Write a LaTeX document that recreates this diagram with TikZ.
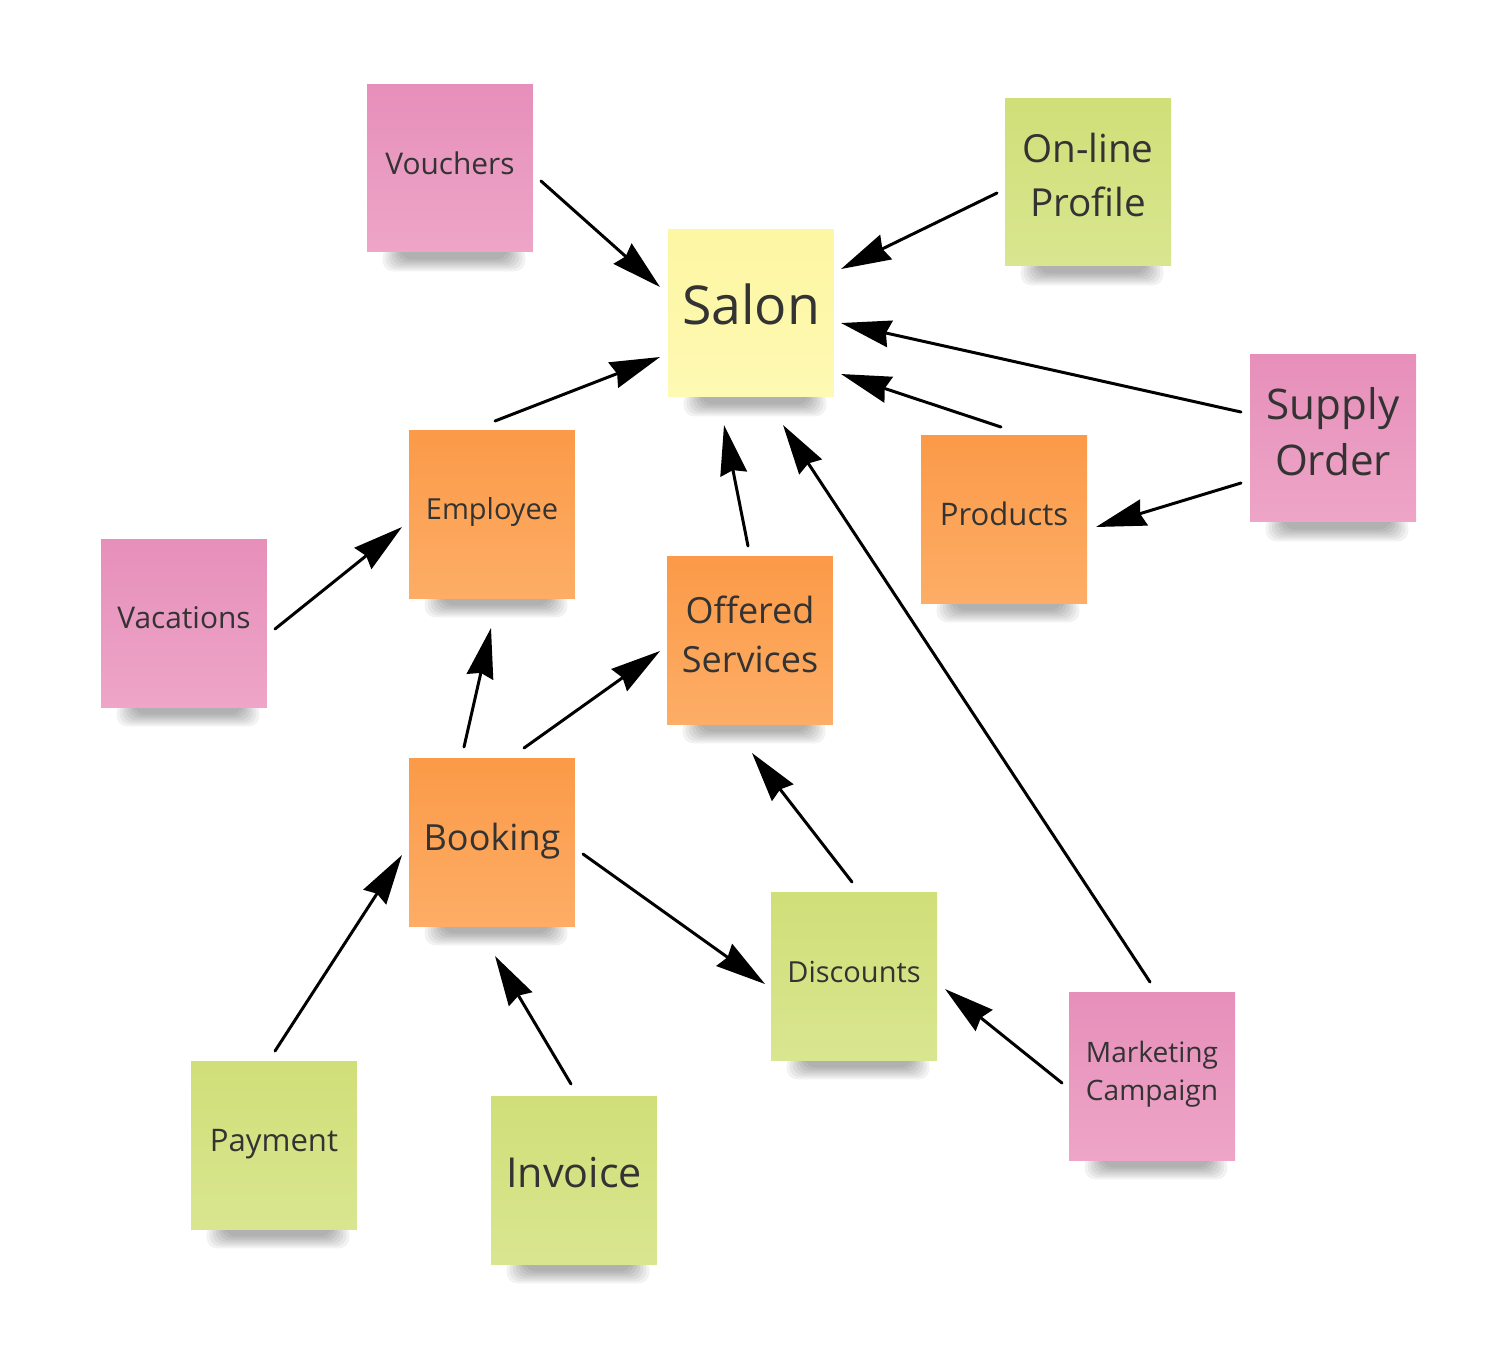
\documentclass[tikz,border=0pt]{standalone}
\usepackage{fontspec}
\setmainfont{Open Sans}
\usetikzlibrary{calc,arrows.meta}
\pgfdeclarelayer{bg}
\pgfsetlayers{bg,main}
\definecolor{txt}{HTML}{333333}
\definecolor{pinkT}{HTML}{E68FBA}
\definecolor{pinkB}{HTML}{EEA5C7}
\definecolor{greenT}{HTML}{D0DF78}
\definecolor{greenB}{HTML}{D9E690}
\definecolor{orangeT}{HTML}{FB9A48}
\definecolor{orangeB}{HTML}{FDAD66}
\definecolor{yellowT}{HTML}{FDF6A2}
\definecolor{yellowB}{HTML}{FEF9B4}
\tikzset{
  note/.style={minimum width=3.32cm, minimum height=3.36cm, inner sep=0pt},
  pinknote/.style={note, top color=pinkT, bottom color=pinkB},
  greennote/.style={note, top color=greenT, bottom color=greenB},
  orangenote/.style={note, top color=orangeT, bottom color=orangeB},
  yellownote/.style={note, top color=yellowT, bottom color=yellowB},
  lbl/.style n args={2}{inner sep=0pt, align=center, text=txt, font=\fontsize{#1pt}{#2pt}\selectfont},
  conn/.style={line width=1.7pt, line cap=round, -{Stealth[length=1.0cm,width=0.54cm,inset=0.08cm]}},
}
\begin{document}
\begin{tikzpicture}[x=0.02cm,y=-0.02cm]
\useasboundingbox (0,0) rectangle (1496,1350);
\node[pinknote] (vouchers) at (450,168) {};
\node[greennote] (profile) at (1088,182) {};
\node[yellownote] (salon) at (751,313) {};
\node[pinknote] (supply) at (1333,438) {};
\node[orangenote] (employee) at (492,514) {};
\node[orangenote] (products) at (1004,519) {};
\node[pinknote] (vacations) at (184,623) {};
\node[orangenote] (offered) at (750,640) {};
\node[orangenote] (booking) at (492,842) {};
\node[greennote] (discounts) at (854,976) {};
\node[pinknote] (marketing) at (1152,1076) {};
\node[greennote] (payment) at (274,1145) {};
\node[greennote] (invoice) at (574,1180) {};

\node[lbl={17}{22}] (tvouchers) at ($(vouchers)+(0,-5)$) {Vouchers};
\node[lbl={22}{30.5}] (tprofile) at ($(profile)+(0,-7)$) {On-line\\Profile};
\node[lbl={30.5}{40}] (tsalon) at ($(salon)+(0,-9)$) {Salon};
\node[lbl={24}{32}] (tsupply) at ($(supply)+(0,-6)$) {Supply\\Order};
\node[lbl={16.5}{22}] (temployee) at ($(employee)+(0,-2)$) {Employee};
\node[lbl={17.7}{22}] (tproducts) at ($(products)+(0,-5)$) {Products};
\node[lbl={17}{22}] (tvacations) at ($(vacations)+(0,-5)$) {Vacations};
\node[lbl={20.5}{28}] (toffered) at ($(offered)+(0,-6)$) {Offered\\Services};
\node[lbl={20.5}{28}] (tbooking) at ($(booking)+(0,-1)$) {Booking};
\node[lbl={16.5}{22}] (tdiscounts) at ($(discounts)+(0,-4)$) {Discounts};
\node[lbl={16}{21.6}] (tmarketing) at ($(marketing)+(0,-2)$) {Marketing\\Campaign};
\node[lbl={17.7}{22}] (tpayment) at ($(payment)+(0,-1)$) {Payment};
\node[lbl={23.5}{32}] (tinvoice) at ($(invoice)+(0,-7)$) {Invoice};

\begin{pgfonlayer}{bg}
\foreach \n in {vouchers,profile,salon,supply,employee,products,vacations,offered,booking,discounts,marketing,payment,invoice}{
  \foreach \k in {0,...,6}{
    \fill[black, opacity=0.05, rounded corners=6pt]
      ($(\n.south west)+(16+3*\k,-6)$) rectangle ($(\n.south east)+(-8-3*\k,19-2*\k)$);
  }
}
\end{pgfonlayer}

\draw[conn] ($(vouchers)+(91,13)$) -- ($(salon)+(-91,-26)$);
\draw[conn] ($(profile)+(-91,11)$) -- ($(salon)+(90,-44)$);
\draw[conn] ($(supply)+(-92,-26)$) -- ($(salon)+(90,10)$);
\draw[conn] ($(products)+(-3,-92)$) -- ($(salon)+(90,61)$);
\draw[conn] ($(supply)+(-92,45)$) -- ($(products)+(92,8)$);
\draw[conn] ($(employee)+(3,-93)$) -- ($(salon)+(-91,44)$);
\draw[conn] ($(offered)+(-2,-94)$) -- ($(salon)+(-27,112)$);
\draw[conn] ($(marketing)+(-2,-94)$) -- ($(salon)+(32,112)$);
\draw[conn] ($(vacations)+(91,6)$) -- ($(employee)+(-90,13)$);
\draw[conn] ($(booking)+(-28,-95)$) -- ($(employee)+(-1,114)$);
\draw[conn] ($(booking)+(32,-94)$) -- ($(offered)+(-90,11)$);
\draw[conn] ($(discounts)+(-2,-94)$) -- ($(offered)+(2,113)$);
\draw[conn] ($(booking)+(91,12)$) -- ($(discounts)+(-89,8)$);
\draw[conn] ($(marketing)+(-90,7)$) -- ($(discounts)+(91,13)$);
\draw[conn] ($(payment)+(1,-94)$) -- ($(booking)+(-90,13)$);
\draw[conn] ($(invoice)+(-3,-96)$) -- ($(booking)+(3,114)$);
\end{tikzpicture}
\end{document}
